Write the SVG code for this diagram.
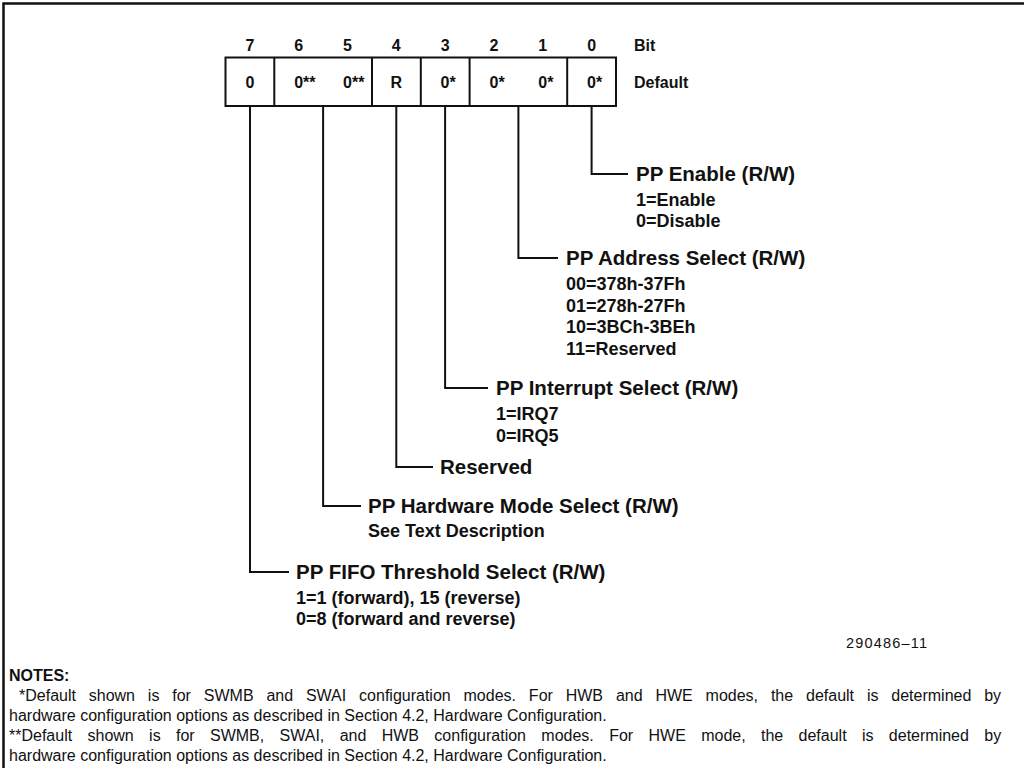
<svg xmlns="http://www.w3.org/2000/svg" width="1024" height="773" viewBox="0 0 1024 773">
<style>
.frame{fill:none;stroke:#111;stroke-width:2.5}
.box{fill:#fff;stroke:#111;stroke-width:2}
.ln{fill:none;stroke:#111;stroke-width:2}
.hd{font-family:"Liberation Sans",Arial,sans-serif;font-weight:bold;font-size:16px;fill:#111}
.cell{font-family:"Liberation Sans",Arial,sans-serif;font-weight:bold;font-size:16px;fill:#111}
.ttl{font-family:"Liberation Sans",Arial,sans-serif;font-weight:bold;font-size:20.5px;fill:#111}
.sub{font-family:"Liberation Sans",Arial,sans-serif;font-weight:bold;font-size:18px;fill:#111}
.note{font-family:"Liberation Sans",Arial,sans-serif;font-size:16px;fill:#111}
.noteh{font-family:"Liberation Sans",Arial,sans-serif;font-weight:bold;font-size:16px;fill:#111}
.fig{font-family:"Liberation Sans",Arial,sans-serif;font-size:14.5px;letter-spacing:1.2px;fill:#111}
</style>
<rect width="1024" height="773" fill="#fff"/>
<path class="frame" d="M3.5,768 V3.5 H1024"/>

<g id="register">
  <g id="bit-numbers" class="hd" text-anchor="middle">
    <text x="250" y="50.5">7</text>
    <text x="298.7" y="50.5">6</text>
    <text x="347.5" y="50.5">5</text>
    <text x="396.3" y="50.5">4</text>
    <text x="445.1" y="50.5">3</text>
    <text x="494" y="50.5">2</text>
    <text x="542.8" y="50.5">1</text>
    <text x="591.6" y="50.5">0</text>
  </g>
  <text class="hd" x="634" y="50.5">Bit</text>
  <text class="hd" x="634" y="88">Default</text>
  <rect class="box" x="225.5" y="57.5" width="390.5" height="48.5"/>
  <path class="ln" d="M274.3,57.5 V106 M372,57.5 V106 M420.8,57.5 V106 M469.6,57.5 V106 M567.2,57.5 V106"/>
  <g class="cell">
    <text x="245.5" y="88">0</text>
    <text x="294.2" y="88">0**</text>
    <text x="343" y="88">0**</text>
    <text x="390.5" y="88">R</text>
    <text x="440.6" y="88">0*</text>
    <text x="489.5" y="88">0*</text>
    <text x="538.3" y="88">0*</text>
    <text x="587.1" y="88">0*</text>
  </g>
</g>

<g id="connectors" class="ln">
  <path d="M591.6,106 V174 H628"/>
  <path d="M518.4,106 V258 H558"/>
  <path d="M445.1,106 V388 H488"/>
  <path d="M396.3,106 V467 H433"/>
  <path d="M323.1,106 V506 H361"/>
  <path d="M250,106 V572 H289"/>
</g>

<g id="pp-enable">
  <text class="ttl" x="636" y="181">PP Enable (R/W)</text>
  <text class="sub" x="636" y="205.5">1=Enable</text>
  <text class="sub" x="636" y="227">0=Disable</text>
</g>

<g id="pp-address-select">
  <text class="ttl" x="566" y="265">PP Address Select (R/W)</text>
  <text class="sub" x="566" y="290">00=378h-37Fh</text>
  <text class="sub" x="566" y="311.5">01=278h-27Fh</text>
  <text class="sub" x="566" y="333">10=3BCh-3BEh</text>
  <text class="sub" x="566" y="354.5">11=Reserved</text>
</g>

<g id="pp-interrupt-select">
  <text class="ttl" x="496" y="395">PP Interrupt Select (R/W)</text>
  <text class="sub" x="496" y="420">1=IRQ7</text>
  <text class="sub" x="496" y="441.5">0=IRQ5</text>
</g>

<g id="reserved">
  <text class="ttl" x="440" y="474">Reserved</text>
</g>

<g id="pp-hardware-mode-select">
  <text class="ttl" x="368" y="513">PP Hardware Mode Select (R/W)</text>
  <text class="sub" x="368" y="537">See Text Description</text>
</g>

<g id="pp-fifo-threshold-select">
  <text class="ttl" x="296" y="579">PP FIFO Threshold Select (R/W)</text>
  <text class="sub" x="296" y="603.5">1=1 (forward), 15 (reverse)</text>
  <text class="sub" x="296" y="625">0=8 (forward and reverse)</text>
</g>

<text class="fig" x="846" y="648">290486–11</text>

<g id="notes">
  <text class="noteh" x="9" y="681">NOTES:</text>
  <text class="note" x="19" y="701" word-spacing="8.4">*Default shown is for SWMB and SWAI configuration modes. For HWB and HWE modes, the default is determined by</text>
  <text class="note" x="9" y="721">hardware configuration options as described in Section 4.2, Hardware Configuration.</text>
  <text class="note" x="9" y="741" word-spacing="10.9">**Default shown is for SWMB, SWAI, and HWB configuration modes. For HWE mode, the default is determined by</text>
  <text class="note" x="9" y="761">hardware configuration options as described in Section 4.2, Hardware Configuration.</text>
</g>
</svg>
